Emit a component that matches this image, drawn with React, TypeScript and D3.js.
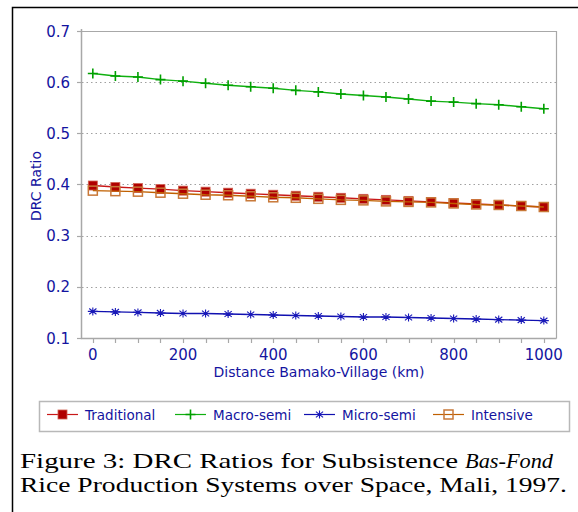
import * as d3 from 'd3'

const distances = [0, 50, 100, 150, 200, 250, 300, 350, 400, 450, 500, 550, 600, 650, 700, 750, 800, 850, 900, 950, 1000]
const traditional = [0.398, 0.395, 0.393, 0.391, 0.388, 0.386, 0.384, 0.382, 0.380, 0.378, 0.376, 0.374, 0.372, 0.370, 0.368, 0.366, 0.364, 0.362, 0.360, 0.358, 0.356]
const macroSemi = [0.617, 0.612, 0.610, 0.605, 0.602, 0.598, 0.594, 0.591, 0.588, 0.584, 0.581, 0.577, 0.574, 0.571, 0.567, 0.563, 0.561, 0.558, 0.556, 0.552, 0.548]
const microSemi = [0.152, 0.151, 0.150, 0.149, 0.148, 0.148, 0.147, 0.146, 0.145, 0.144, 0.143, 0.142, 0.141, 0.141, 0.140, 0.139, 0.138, 0.137, 0.136, 0.135, 0.134]
const intensive = [0.388, 0.387, 0.386, 0.384, 0.382, 0.380, 0.379, 0.377, 0.375, 0.374, 0.372, 0.370, 0.369, 0.367, 0.366, 0.365, 0.363, 0.361, 0.360, 0.358, 0.356]

const yTicks = [0.1, 0.2, 0.3, 0.4, 0.5, 0.6, 0.7]
const xTicks = [0, 200, 400, 600, 800, 1000]
const xMinorTicks = d3.range(0, 1001, 50)

const seriesNames = ['Traditional', 'Macro-semi', 'Micro-semi', 'Intensive']

const TEXT = '#1414a0'
const AXIS = '#a8a8a8'
const FONT = 'DejaVu Sans'

type Marker = 'fillSquare' | 'plus' | 'star' | 'openSquare'

const series: {name: string; values: number[]; line: string; marker: Marker; mark: string}[] = [
  {name: seriesNames[0], values: traditional, line: '#c81818', marker: 'fillSquare', mark: '#b00000'},
  {name: seriesNames[1], values: macroSemi, line: '#10b010', marker: 'plus', mark: '#00a000'},
  {name: seriesNames[2], values: microSemi, line: '#1010b0', marker: 'star', mark: '#1818b8'},
  {name: seriesNames[3], values: intensive, line: '#c06000', marker: 'openSquare', mark: '#c87838'},
]

function MarkerShape({type, x, y, color}: {type: Marker; x: number; y: number; color: string}) {
  if (type === 'fillSquare') {
    return <rect x={x - 4.5} y={y - 4.5} width={9} height={9} fill={color} stroke="#d06050" strokeWidth={0.8} />
  }
  if (type === 'openSquare') {
    return <rect x={x - 4.5} y={y - 4.5} width={9} height={9} fill="none" stroke={color} strokeWidth={1.5} />
  }
  if (type === 'plus') {
    return (
      <path d={`M${x - 5},${y}H${x + 5}M${x},${y - 5}V${y + 5}`} stroke={color} strokeWidth={1.6} />
    )
  }
  const r = 5
  const d = r * 0.72
  return (
    <path
      d={`M${x - r},${y}H${x + r}M${x},${y - r * 0.8}V${y + r * 0.8}M${x - d},${y - d * 0.8}L${x + d},${y + d * 0.8}M${x - d},${y + d * 0.8}L${x + d},${y - d * 0.8}`}
      stroke={color}
      strokeWidth={1.1}
    />
  )
}

export default function App() {
  const width = 578
  const height = 512
  const left = 82
  const right = 556
  const top = 31
  const bottom = 338

  const x = d3.scaleLinear().domain([-24, 1027]).range([left, right])
  const y = d3.scaleLinear().domain([0.1, 0.7]).range([bottom, top])

  const line = d3.line<number>()
    .x((_, i) => x(distances[i]))
    .y(v => y(v))

  const legendX = [47, 175, 304, 433]

  return (
    <svg
      width={width}
      height={height}
      viewBox={`0 0 ${width} ${height}`}
      style={{position: 'absolute', left: 0, top: 0, background: '#fff'}}
    >
      <rect width={width} height={height} fill="#fff" />
      <path d={`M12.5,${height}V7.5H${width}`} fill="none" stroke="#000" strokeWidth={1.5} />

      {/* grid */}
      {yTicks.filter(t => t > 0.15 && t < 0.65).map(t => (
        <line key={t} x1={left} x2={right} y1={Math.round(y(t)) + 0.5} y2={Math.round(y(t)) + 0.5}
          stroke="#a0a0a0" strokeDasharray="1.5,3" strokeWidth={1} />
      ))}

      {/* frame */}
      <path d={`M${left - 0.5},${top + 0.5}H${right + 0.5}V${bottom + 0.5}`} fill="none" stroke={AXIS} strokeWidth={1.2} />
      <path d={`M${left - 0.5},${top - 2}V${bottom + 0.5}H${right + 0.5}`} fill="none" stroke={AXIS} strokeWidth={1.5} />

      {/* y axis */}
      <g fontFamily={FONT} fontSize={15} fill={TEXT}>
        {yTicks.map(t => (
          <g key={t}>
            <line x1={left - 5} x2={left} y1={Math.round(y(t)) + 0.5} y2={Math.round(y(t)) + 0.5} stroke={AXIS} strokeWidth={1.2} />
            <text x={70} y={y(t) + 5.5} textAnchor="end">{t.toFixed(1)}</text>
          </g>
        ))}
      </g>
      <text
        transform={`translate(41, 186) rotate(-90)`}
        textAnchor="middle"
        fontFamily={FONT}
        fontSize={14}
        fill={TEXT}
      >
        DRC Ratio
      </text>

      {/* x axis */}
      {xMinorTicks.map(t => (
        <line key={t} x1={Math.round(x(t)) + 0.5} x2={Math.round(x(t)) + 0.5} y1={bottom} y2={bottom + 5} stroke={AXIS} strokeWidth={1.2} />
      ))}
      <g fontFamily={FONT} fontSize={15} fill={TEXT} textAnchor="middle">
        {xTicks.map(t => (
          <text key={t} x={x(t)} y={360}>{t}</text>
        ))}
      </g>
      <text x={319} y={377} textAnchor="middle" fontFamily={FONT} fontSize={14} fill={TEXT}>
        Distance Bamako-Village (km)
      </text>

      {/* series */}
      {series.map(s => (
        <g key={s.name}>
          <path d={line(s.values) ?? undefined} fill="none" stroke={s.line} strokeWidth={1.4} />
          {s.values.map((v, i) => (
            <MarkerShape key={i} type={s.marker} x={x(distances[i])} y={y(v)} color={s.mark} />
          ))}
        </g>
      ))}

      {/* legend */}
      <rect x={39.5} y={401.5} width={530} height={30} fill="#fff" stroke="#b8b8b8" strokeWidth={1.5} />
      {series.map((s, i) => (
        <g key={s.name}>
          <line x1={legendX[i]} x2={legendX[i] + 31} y1={414.5} y2={414.5} stroke={s.line} strokeWidth={1.2} />
          <MarkerShape type={s.marker} x={legendX[i] + 15.5} y={414.5} color={s.mark} />
          <text x={legendX[i] + 38} y={419.5} fontFamily={FONT} fontSize={13.5} fill={TEXT}>{s.name}</text>
        </g>
      ))}

      {/* caption */}
      <g fontFamily="Liberation Serif" fontSize={22} fill="#000">
        <text x={20} y={468} textLength={438} lengthAdjust="spacingAndGlyphs">
          Figure 3: DRC Ratios for Subsistence
        </text>
        <text x={465} y={468} fontStyle="italic" textLength={88} lengthAdjust="spacingAndGlyphs">
          Bas-Fond
        </text>
        <text x={20} y={492} textLength={547} lengthAdjust="spacingAndGlyphs">
          Rice Production Systems over Space, Mali, 1997.
        </text>
      </g>
    </svg>
  )
}
